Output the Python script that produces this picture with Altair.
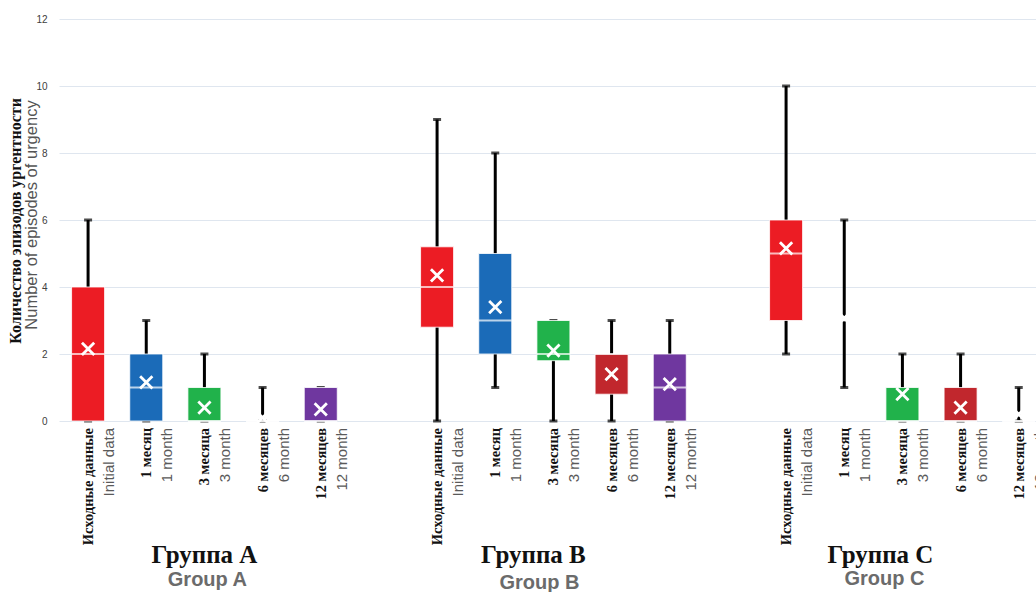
import altair as alt
import pandas as pd

# Study groups and follow-up points
groups = ["A", "B", "C"]
periods_ru = ["Исходные данные", "1 месяц", "3 месяца", "6 месяцев", "12 месяцев"]
periods_en = ["Initial data", "1 month", "3 month", "6 month", "12 month"]
period_colors = ["#ec1c24", "#1b6bb8", "#21b24b", "#c1272d", "#6f379f"]

# Box-plot summaries of urgency episodes, in period order for every group
mins = {"A": [0, 0, 0, 0, 0], "B": [0, 1, 0, 0, 0], "C": [2, 1, 0, 0, 0]}
q1s = {"A": [0, 0, 0, 0, 0], "B": [2.8, 2, 1.8, 0.8, 0], "C": [3, 3, 0, 0, 0]}
medians = {"A": [2, 1, 0, 0, 0], "B": [4, 3, 2, 2, 1], "C": [5, 3, 0, 0, 0]}
q3s = {"A": [4, 2, 1, 0, 1], "B": [5.2, 5, 3, 2, 2], "C": [6, 3, 1, 1, 0]}
maxs = {"A": [6, 3, 2, 1, 1], "B": [9, 8, 3, 3, 3], "C": [10, 6, 2, 2, 1]}
means = {"A": [2.15, 1.15, 0.4, 0.1, 0.35], "B": [4.35, 3.4, 2.1, 1.4, 1.1],
         "C": [5.15, 3.07, 0.8, 0.4, 0.2]}

group_titles_ru = ["Группа А", "Группа В", "Группа С"]
group_titles_en = ["Group A", "Group B", "Group C"]

y_title_ru = "Количество эпизодов ургентности"
y_title_en = "Number of episodes of urgency"

# Slot order along x: five periods per group followed by an empty spacer slot
slots = []
for g in groups:
    slots += [f"{g}{i}" for i in range(len(periods_en))] + [f"{g}_gap"]

rows = []
for g in groups:
    for i in range(len(periods_en)):
        rows.append({
            "slot": f"{g}{i}", "group": g,
            "period_ru": periods_ru[i], "period_en": periods_en[i],
            "min": mins[g][i], "q1": q1s[g][i], "median": medians[g][i],
            "q3": q3s[g][i], "max": maxs[g][i], "mean": means[g][i],
        })
df = pd.DataFrame(rows)

# Group captions sit under the middle period of each group, nudged sideways
title_dx_ru = [0, -20, -22]
title_dx_en = [3, -14, -18]
title_dy_en = [0, 3, -1]
titles = pd.DataFrame({
    "slot": [f"{g}2" for g in groups],
    "ru": group_titles_ru, "en": group_titles_en,
})

W, H = 978, 402


def x_enc():
    # the slot band runs past the right edge of the view, so the last group is clipped
    return alt.X("slot:N", scale=alt.Scale(domain=slots, range=[1, 1048],
                                           paddingInner=0, paddingOuter=0), axis=None)


y_scale = alt.Scale(domain=[0, 12], nice=False, zero=True)
color = alt.Color("period_en:N", scale=alt.Scale(domain=periods_en, range=period_colors),
                  legend=None)

base = alt.Chart(df).encode(x=x_enc())

whisker = base.mark_rule(color="black", strokeWidth=3).encode(
    y=alt.Y("min:Q", scale=y_scale,
            axis=alt.Axis(values=list(range(0, 13, 2)), grid=True, gridColor="#dfe6ef",
                          gridWidth=1, domain=False, ticks=False, labelFontSize=10,
                          labelColor="#404040", labelFont="Liberation Sans",
                          labelPadding=11, title=None)),
    y2="max:Q",
)
cap_lo = base.mark_tick(color="black", size=8, thickness=3).encode(y="min:Q")
cap_hi = base.mark_tick(color="black", size=8, thickness=3).encode(y="max:Q")
box = base.mark_bar(size=33, stroke="white", strokeWidth=1, strokeOpacity=0.8).encode(
    y="q1:Q", y2="q3:Q", color=color,
)
median = base.mark_tick(color="white", size=33, thickness=2).encode(y="median:Q")
mean = base.mark_point(shape="M-1,-1L1,1M-1,1L1,-1", filled=False, stroke="white",
                       strokeWidth=2.8, size=150, opacity=1).encode(y="mean:Q")

label_ru = base.mark_text(angle=270, align="right", baseline="middle",
                          font="Liberation Serif", fontWeight="bold", fontSize=14.5,
                          color="#111111", dy=1).encode(
    y=alt.value(H + 7), text="period_ru:N")
label_en = base.mark_text(angle=270, align="right", baseline="middle",
                          font="Liberation Sans", fontSize=15, color="#5a5a5a",
                          dy=21).encode(
    y=alt.value(H + 7), text="period_en:N")

layers = [whisker, cap_lo, cap_hi, box, median, mean, label_ru, label_en]

for k in range(len(groups)):
    tb = alt.Chart(titles.iloc[[k]]).encode(x=x_enc())
    layers.append(tb.mark_text(font="Liberation Serif", fontWeight="bold", fontSize=25,
                               color="#111111", baseline="middle",
                               dx=title_dx_ru[k]).encode(
        y=alt.value(536), text="ru:N"))
    layers.append(tb.mark_text(font="Liberation Sans", fontWeight="bold", fontSize=20,
                               color="#6b6b6b", baseline="middle",
                               dx=title_dx_en[k]).encode(
        y=alt.value(561 + title_dy_en[k]), text="en:N"))

ytitle = pd.DataFrame({"ru": [y_title_ru], "en": [y_title_en]})
layers.append(alt.Chart(ytitle).mark_text(
    angle=270, align="center", baseline="middle", font="Liberation Serif",
    fontWeight="bold", fontSize=16, color="#111111").encode(
    x=alt.value(-42), y=alt.value(202), text="ru:N"))
layers.append(alt.Chart(ytitle).mark_text(
    angle=270, align="center", baseline="middle", font="Liberation Sans",
    fontSize=16.5, color="#555555").encode(
    x=alt.value(-26), y=alt.value(196), text="en:N"))

chart = alt.layer(*layers).properties(
    width=W, height=H,
    autosize=alt.AutoSizeParams(type="none"),
    padding={"left": 58, "top": 19, "right": 0, "bottom": 171},
    background="white",
).configure_view(stroke=None)

chart.save("out.html", embed_options={"renderer": "svg", "actions": False})
